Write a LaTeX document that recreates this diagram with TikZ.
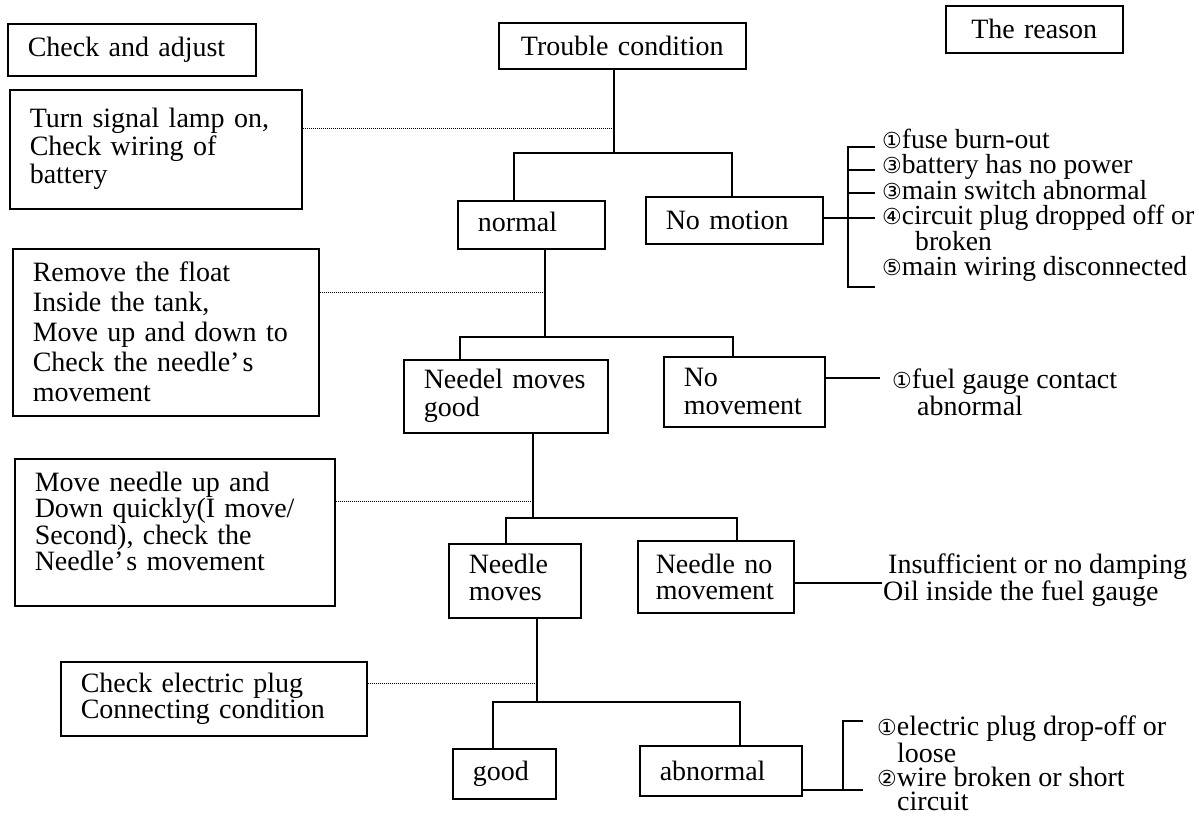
\documentclass[tikz,border=0pt]{standalone}
\usepackage{fontspec}
\setmainfont{Liberation Serif}
\newfontfamily\circfont{DejaVu Sans}
\newcommand{\cn}[1]{{\circfont\fontsize{22}{22}\selectfont #1}}
\begin{document}
\begin{tikzpicture}[x=1pt,y=-1pt,
  stepbox/.style={draw, line width=1.5pt, rectangle, anchor=north west,
    inner xsep=20pt, inner ysep=0pt, align=left},
  lift/.style={execute at end node={\endgraf\vspace*{#1}}},
  link/.style={line width=1.5pt},
  guide/.style={line width=1pt, densely dotted},
  cause/.style={anchor=base west, inner sep=0pt, align=left}
]
\useasboundingbox (0,0) rectangle (1199,823);

% ---------- headings ----------
\node[stepbox, text width=208pt, minimum height=52pt, font=\fontsize{28}{29}\selectfont]
  (adjust) at (7,23) {Check and adjust};
\node[stepbox, text width=207pt, minimum height=46pt, align=center, font=\fontsize{28}{29}\selectfont]
  (trouble) at (498,22) {Trouble condition};
\node[stepbox, text width=137pt, minimum height=47pt, align=center, font=\fontsize{28}{29}\selectfont]
  (reason) at (945,5) {The reason};

% ---------- checks (left column) ----------
\node[stepbox, text width=252pt, minimum height=119pt, font=\fontsize{28}{28}\selectfont]
  (lamp) at (9,89) {Turn signal lamp on,\\Check wiring of\\battery};
\node[stepbox, text width=266pt, minimum height=167pt, font=\fontsize{28}{30}\selectfont]
  (float) at (12,248) {Remove the float\\Inside the tank,\\Move up and down to\\Check the needle’\kern3pt s\\movement};
\node[stepbox, text width=280pt, minimum height=147pt, lift=22pt, font=\fontsize{28}{26.5}\selectfont]
  (quick) at (14,458) {Move needle up and\\Down quickly(I move/\\Second), check the\\Needle’\kern3pt s movement};
\node[stepbox, text width=266pt, minimum height=74pt, font=\fontsize{28}{24}\selectfont]
  (plug) at (60,661) {Check electric plug\\Connecting condition};

% ---------- states (tree) ----------
\node[stepbox, text width=107pt, minimum height=48pt, lift=5pt, font=\fontsize{28}{29}\selectfont]
  (normal) at (457,200) {normal};
\node[stepbox, text width=137pt, minimum height=47pt, font=\fontsize{28}{29}\selectfont]
  (nomotion) at (645,196) {No motion};
\node[stepbox, text width=164pt, minimum height=73pt, font=\fontsize{28}{28}\selectfont]
  (goodmove) at (403,359) {Needel moves\\good};
\node[stepbox, text width=121pt, minimum height=70pt, font=\fontsize{28}{28}\selectfont]
  (nomove) at (663,356) {No\\movement};
\node[stepbox, text width=92pt, minimum height=74pt, lift=7pt, font=\fontsize{28}{27}\selectfont]
  (moves) at (448,543) {Needle\\moves};
\node[stepbox, text width=120pt, minimum height=72pt, inner xsep=18pt, font=\fontsize{28}{26}\selectfont]
  (nomove2) at (637,540) {Needle no\\movement};
\node[stepbox, text width=63pt, minimum height=50pt, font=\fontsize{28}{29}\selectfont]
  (good) at (452,748) {good};
\node[stepbox, text width=122pt, minimum height=50pt, font=\fontsize{28}{29}\selectfont]
  (abnormal) at (639,745) {abnormal};

% ---------- causes (right column); anchored at the last baseline ----------
\node[cause, font=\fontsize{27.6}{24.8}\selectfont] (cause1) at (882,275)
  {\cn{①}fuse burn-out\\\cn{③}battery has no power\\\cn{③}main switch abnormal\\\cn{④}circuit plug dropped off or\\\hspace*{33pt}broken\\\cn{⑤}main wiring disconnected};
\node[cause, font=\fontsize{28}{25}\selectfont] (cause2) at (892,415)
  {\cn{①}fuel gauge contact\\\hspace*{25pt}abnormal};
\node[cause, font=\fontsize{28}{25}\selectfont] (cause3) at (888,600)
  {Insufficient or no damping\\\hspace*{-5pt}Oil inside the fuel gauge};
\node[cause, font=\fontsize{28}{24}\selectfont] (cause4) at (877,810)
  {\cn{①}electric plug drop-off or\\\hspace*{20pt}loose\\\cn{②}wire broken or short\\\hspace*{20pt}circuit};

% ---------- tree junctions ----------
\coordinate (j1) at (614,153); \coordinate (l1) at (514,153); \coordinate (r1) at (732,153); \coordinate (d1) at (614,128);
\coordinate (j2) at (545,337); \coordinate (l2) at (460,337); \coordinate (r2) at (733,337); \coordinate (d2) at (545,292);
\coordinate (j3) at (533,518); \coordinate (l3) at (506,518); \coordinate (r3) at (737,518); \coordinate (d3) at (533,501);
\coordinate (j4) at (537,702); \coordinate (l4) at (493,702); \coordinate (r4) at (740,702); \coordinate (d4) at (537,683);

\draw[link] (trouble.south -| j1) -- (j1);
\draw[link] (l1 |- normal.north) -- (l1) -- (r1) -- (r1 |- nomotion.north);
\draw[guide] (lamp.east |- d1) -- (d1);

\draw[link] (normal.south -| j2) -- (j2);
\draw[link] (l2 |- goodmove.north) -- (l2) -- (r2) -- (r2 |- nomove.north);
\draw[guide] (float.east |- d2) -- (d2);

\draw[link] (goodmove.south -| j3) -- (j3);
\draw[link] (l3 |- moves.north) -- (l3) -- (r3) -- (r3 |- nomove2.north);
\draw[guide] (quick.east |- d3) -- (d3);

\draw[link] (moves.south -| j4) -- (j4);
\draw[link] (l4 |- good.north) -- (l4) -- (r4) -- (r4 |- abnormal.north);
\draw[guide] (plug.east |- d4) -- (d4);

% ---------- cause brackets ----------
\coordinate (t1a) at (875,147); \coordinate (t1b) at (875,170); \coordinate (t1c) at (875,193);
\coordinate (t1d) at (875,218); \coordinate (t1e) at (875,287); \coordinate (b1) at (848,287);
\draw[link] (t1a) -| (b1) -- (t1e);
\draw[link] (t1b -| b1) -- (t1b);
\draw[link] (t1c -| b1) -- (t1c);
\draw[link] (nomotion.east |- t1d) -- (t1d);

\coordinate (c2) at (880,378);
\draw[link] (nomove.east |- c2) -- (c2);

\coordinate (c3) at (882,583);
\draw[link] (nomove2.east |- c3) -- (c3);

\coordinate (t4a) at (863,721); \coordinate (t4b) at (863,790); \coordinate (b4) at (843,790);
\draw[link] (abnormal.east |- t4b) -- (t4b);
\draw[link] (t4a) -| (b4);
\end{tikzpicture}
\end{document}
